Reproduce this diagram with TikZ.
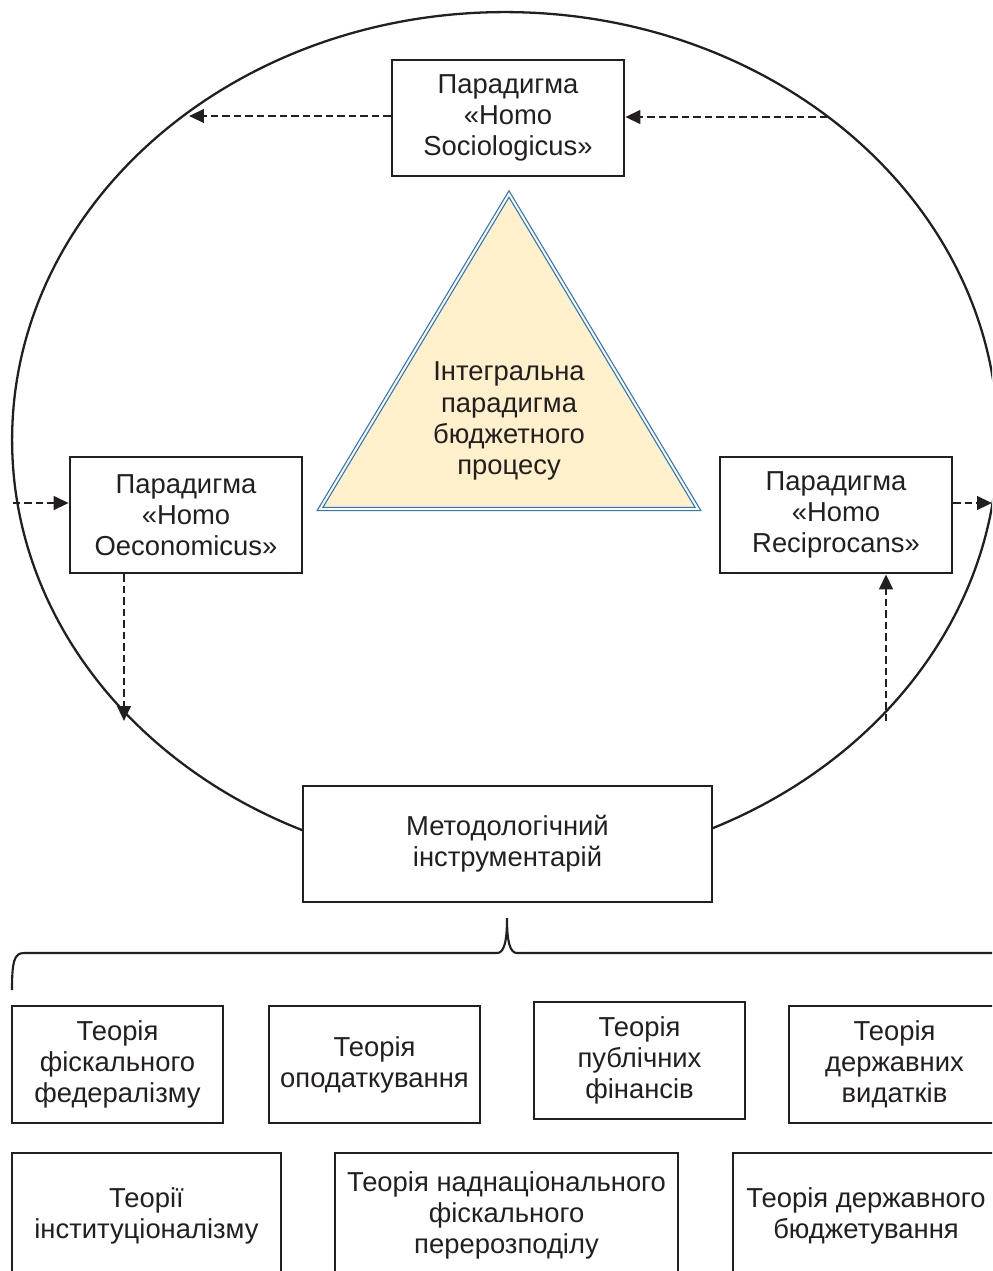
\documentclass[tikz,border=0pt]{standalone}
\usepackage{fontspec}
\setmainfont{Liberation Sans}
\usetikzlibrary{arrows.meta}
\definecolor{ink}{HTML}{231F20}
\definecolor{triblue}{HTML}{2E78C0}
\definecolor{trifill}{HTML}{FDF0CB}
\tikzset{
  txt/.style={text=ink, align=center, font=\fontsize{15.6}{17.7}\selectfont},
  pbox/.style={txt, draw=ink, line width=1.5pt, fill=white, inner sep=0pt},
  darrow/.style={draw=ink, line width=1.5pt, dash pattern=on 0.15cm off 0.08cm,
    -{Triangle[length=0.3cm,width=0.27cm]}},
}
\begin{document}
\begin{tikzpicture}[x=0.02cm,y=-0.02cm]
\clip (0,0) rectangle (992,1271);
\fill[white] (0,0) rectangle (992,1271);
% big ellipse
\draw[ink, line width=1.3pt] (505,440) ellipse [x radius=9.86cm, y radius=8.56cm];
% triangle
\draw[triblue, line width=0.7pt, double=white, double distance=1.1pt, fill=trifill]
  (509,194) -- (698,509) -- (320,509) -- cycle;
\node[txt] (tri) at (509,421)
  {Інтегральна\\парадигма\\бюджетного\\процесу};
% paradigm boxes
\node[pbox, minimum width=4.64cm, minimum height=2.32cm] (soc) at (508,118) {Парадигма\\«Homo\\Sociologicus»};
\node[pbox, minimum width=4.64cm, minimum height=2.32cm] (oec) at (186,515) {Парадигма\\«Homo\\Oeconomicus»};
\node[pbox, minimum width=4.64cm, minimum height=2.32cm] (rec) at (836,515) {Парадигма\\«Homo\\Reciprocans»};
\node[pbox, minimum width=8.18cm, minimum height=2.32cm] (met) at (507.5,844) {Методологічний\\інструментарій};
% free ends on the ellipse
\coordinate (eTL) at (189,116);
\coordinate (eTR) at (827,117);
\coordinate (eL) at (13,503);
\coordinate (eR) at (992,503);
\coordinate (eBL) at (124,721);
\coordinate (eBR) at (886,721);
% dashed arrows
\draw[darrow] (soc.west |- eTL) -- (eTL);
\draw[darrow] (eTR) -- (soc.east |- eTR);
\draw[darrow] (eL) -- (oec.west |- eL);
\draw[darrow] (rec.east |- eR) -- (eR);
\draw[darrow] (oec.south -| eBL) -- (eBL);
\draw[darrow] (eBR) -- (rec.south -| eBR);
% brace
\coordinate (brTip) at (507,918);
\draw[ink, line width=1.2pt] (12,990) .. controls (12,962) and (14,953) .. (24,953) -- (497,953)
  .. controls (504,953) and (507,942) .. (brTip)
  .. controls (507,942) and (510,953) .. (517,953) -- (1000,953);
% theory boxes row 1
\node[pbox, minimum width=4.22cm, minimum height=2.34cm] (t1) at (117.5,1064.5) {Теорія\\фіскального\\федералізму};
\node[pbox, minimum width=4.22cm, minimum height=2.34cm] (t2) at (374.5,1064.5) {Теорія\\оподаткування};
\node[pbox, minimum width=4.22cm, minimum height=2.34cm] (t3) at (639.5,1060.5) {Теорія\\публічних\\фінансів};
\node[pbox, minimum width=4.22cm, minimum height=2.34cm] (t4) at (894.5,1064.5) {Теорія\\державних\\видатків};
% theory boxes row 2
\node[pbox, minimum width=5.38cm, minimum height=2.5cm] (t5) at (146.5,1215.5) {Теорії\\інституціоналізму};
\node[pbox, minimum width=6.86cm, minimum height=2.5cm] (t6) at (506.5,1215.5) {Теорія наднаціонального\\фіскального\\перерозподілу};
\node[pbox, minimum width=5.32cm, minimum height=2.5cm] (t7) at (866,1215.5) {Теорія державного\\бюджетування};
\end{tikzpicture}
\end{document}
